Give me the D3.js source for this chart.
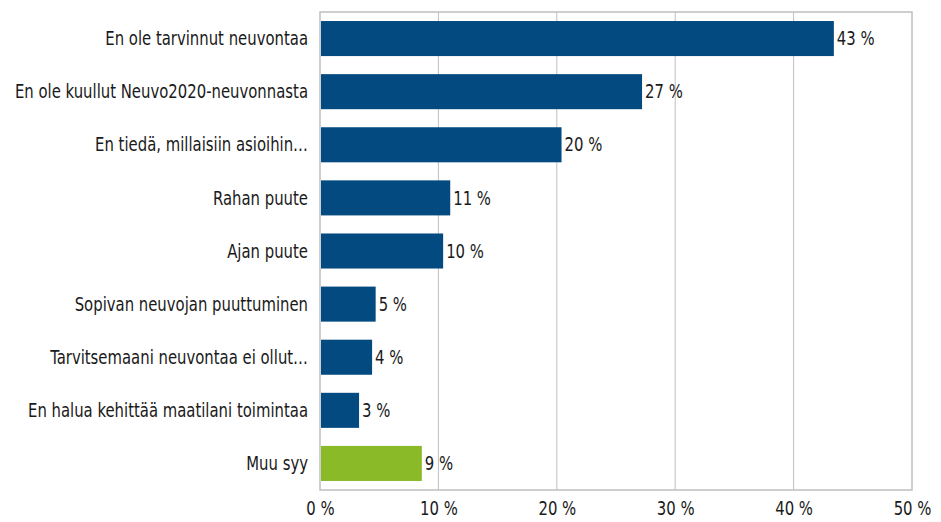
<!DOCTYPE html>
<html>
<head>
<meta charset="utf-8">
<script src="https://cdn.jsdelivr.net/npm/d3@7"></script>
<style>
  body { margin: 0; background: #fff; }
  text { font-family: "Liberation Sans Narrow", "DejaVu Sans Condensed", sans-serif; fill: #1a1a1a; }
</style>
</head>
<body>
<div id="chart"></div>
<script>
// categories top to bottom
var categories = [
  "En ole tarvinnut neuvontaa",
  "En ole kuullut Neuvo2020-neuvonnasta",
  "En tiedä, millaisiin asioihin\u2026",
  "Rahan puute",
  "Ajan puute",
  "Sopivan neuvojan puuttuminen",
  "Tarvitsemaani neuvontaa ei ollut\u2026",
  "En halua kehittää maatilani toimintaa",
  "Muu syy"
];
var values = [43.4, 27.2, 20.4, 11.0, 10.4, 4.7, 4.4, 3.3, 8.6];
var labels = ["43 %", "27 %", "20 %", "11 %", "10 %", "5 %", "4 %", "3 %", "9 %"];
var xTicks = [0, 10, 20, 30, 40, 50];

var width = 941, height = 522;
var margin = {top: 12, right: 29, bottom: 32, left: 320};
var fs = 19, squeeze = 0.87;

var svg = d3.select("#chart").append("svg")
    .attr("width", width)
    .attr("height", height);

var x = d3.scaleLinear().domain([0, 50]).range([margin.left, width - margin.right]);
var y = d3.scaleBand().domain(categories)
    .range([margin.top, height - margin.bottom])
    .paddingInner(0.34).paddingOuter(0.17);

// gridlines
svg.append("g").selectAll("line")
    .data(xTicks.slice(1, -1))
    .enter().append("line")
    .attr("x1", function(d) { return x(d); })
    .attr("x2", function(d) { return x(d); })
    .attr("y1", margin.top)
    .attr("y2", height - margin.bottom)
    .attr("stroke", "#bfbfbf")
    .attr("stroke-width", 1);

// plot frame
svg.append("rect")
    .attr("x", x(0))
    .attr("y", margin.top)
    .attr("width", x(50) - x(0))
    .attr("height", height - margin.bottom - margin.top)
    .attr("fill", "none")
    .attr("stroke", "#bfbfbf")
    .attr("stroke-width", 1.5);

// bars
svg.append("g").selectAll("rect")
    .data(values)
    .enter().append("rect")
    .attr("x", x(0) + 1)
    .attr("y", function(d, i) { return y(categories[i]); })
    .attr("width", function(d) { return x(d) - x(0) - 1; })
    .attr("height", y.bandwidth())
    .attr("fill", function(d, i) { return i === categories.length - 1 ? "#8aba28" : "#034a80"; });

// value labels
svg.append("g").selectAll("text")
    .data(values)
    .enter().append("text")
    .attr("transform", function(d, i) {
      return "translate(" + (x(d) + 3) + "," + (y(categories[i]) + y.bandwidth() / 2) + ") scale(" + squeeze + ",1)";
    })
    .attr("dy", "0.35em")
    .attr("font-size", fs)
    .text(function(d, i) { return labels[i]; });

// category labels
svg.append("g").selectAll("text")
    .data(categories)
    .enter().append("text")
    .attr("transform", function(d) {
      return "translate(" + (x(0) - 12) + "," + (y(d) + y.bandwidth() / 2) + ") scale(" + squeeze + ",1)";
    })
    .attr("dy", "0.35em")
    .attr("text-anchor", "end")
    .attr("font-size", fs)
    .text(function(d) { return d; });

// x axis labels
var xAxis = d3.axisBottom(x).tickValues(xTicks)
    .tickSize(0).tickPadding(12)
    .tickFormat(function(d) { return d + " %"; });
var gx = svg.append("g")
    .attr("transform", "translate(0," + (height - margin.bottom) + ")")
    .call(xAxis);
gx.select(".domain").remove();
gx.selectAll("text")
    .attr("font-size", fs)
    .attr("font-family", null)
    .attr("fill", "#1a1a1a")
    .attr("transform", "scale(" + squeeze + ",1)");
</script>
</body>
</html>
